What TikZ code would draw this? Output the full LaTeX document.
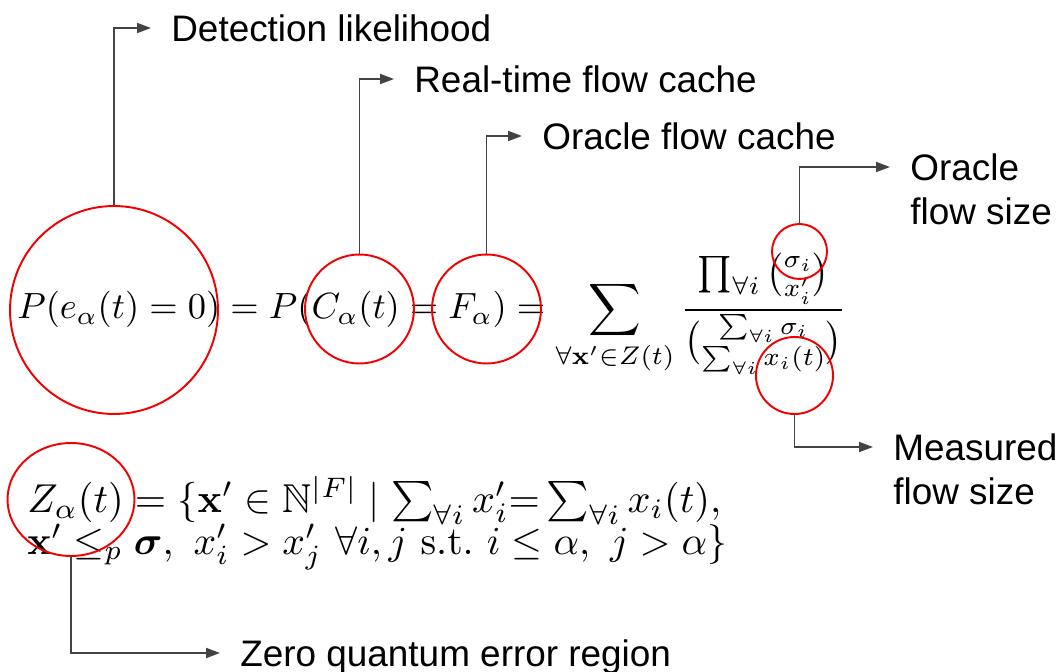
\documentclass[tikz,border=0pt]{standalone}
\usepackage[no-math]{fontspec}
\usepackage{amsmath, amssymb}
\usepackage{xcolor}
\usepackage{graphicx}
\usepackage{tikz}
\usetikzlibrary{shapes.geometric, arrows.meta, positioning}
\newfontfamily\labelfont{Liberation Sans}
\definecolor{linegray}{RGB}{67, 67, 67}
\definecolor{ringred}{RGB}{240, 0, 0}

\begin{document}
\begin{tikzpicture}[x=0.02cm, y=-0.02cm,
    ring/.style={circle, draw=ringred, line width=1.1pt, inner sep=0pt},
    callout/.style={font=\labelfont\fontsize{21}{25}\selectfont, anchor=west, inner sep=0pt, text height=15pt, text depth=0pt},
    pointer/.style={draw=linegray, line width=1.1pt, -{Triangle[length=0.28cm, width=0.2cm]}, shorten >=0.4cm}]
    \useasboundingbox (0,0) rectangle (1059,672);
    % formulas
    \node[anchor=base west, inner sep=0pt] (eqP) at (17,319)
      {\resizebox{16.58cm}{!}{$\displaystyle P(e_\alpha(t)=0) = P(C_\alpha(t)=F_\alpha) =
        \sum_{\forall \mathbf{x}'\in Z(t)} \frac{\prod_{\forall i}\binom{\sigma_i}{x'_i}}{\binom{\sum_{\forall i}\sigma_i}{\sum_{\forall i}x_i(t)}}$}};
    \node[anchor=base west, inner sep=0pt] (eqZa) at (27,512)
      {\resizebox{13.88cm}{!}{$Z_\alpha(t) = \{\mathbf{x}'\in\mathbb{N}^{|F|} \mid \sum_{\forall i} x'_i{=}\sum_{\forall i} x_i(t),$}};
    \node[anchor=base west, inner sep=0pt] (eqZb) at (27,554)
      {\resizebox{14cm}{!}{$\mathbf{x}' \leq_p \boldsymbol{\sigma},\ x'_i > x'_j\ \forall i,j\ \mathrm{s.t.}\ i\leq\alpha,\ j>\alpha\}$}};
    % red rings
    \node[ring, minimum size=4.16cm] (cP) at (114,310) {};
    \node[ring, minimum size=2.18cm] (cC) at (359.5,309) {};
    \node[ring, minimum size=2.18cm] (cF) at (486.5,309) {};
    \node[ring, minimum size=1.1cm] (cS) at (799.5,251.5) {};
    \node[ring, minimum size=1.54cm] (cX) at (794.5,375.5) {};
    \node[ring, ellipse, minimum width=2.54cm, minimum height=2.26cm] (cZ) at (71,499.5) {};
    % labels
    \node[callout] (detect) at (171,28) {Detection likelihood};
    \node[callout] (rtcache) at (414,79) {Real-time flow cache};
    \node[callout] (occache) at (542,136) {Oracle flow cache};
    \node[callout] (osize) at (910,167) {Oracle};
    \node[callout, below=0.88cm of osize.west, anchor=west] (osize2) {flow size};
    \node[callout] (msize) at (893,447) {Measured};
    \node[callout, below=0.88cm of msize.west, anchor=west] (msize2) {flow size};
    \node[callout] (zeroreg) at (240,653) {Zero quantum error region};
    % pointers
    \draw[pointer] (cP.north) |- (detect.west);
    \draw[pointer] (cC.north) |- (rtcache.west);
    \draw[pointer] (cF.north) |- (occache.west);
    \draw[pointer] (cS.north) |- (osize.west);
    \draw[pointer] (cX.south) |- (msize.west);
    \draw[pointer] (cZ.south) |- (zeroreg.west);
\end{tikzpicture}
\end{document}
